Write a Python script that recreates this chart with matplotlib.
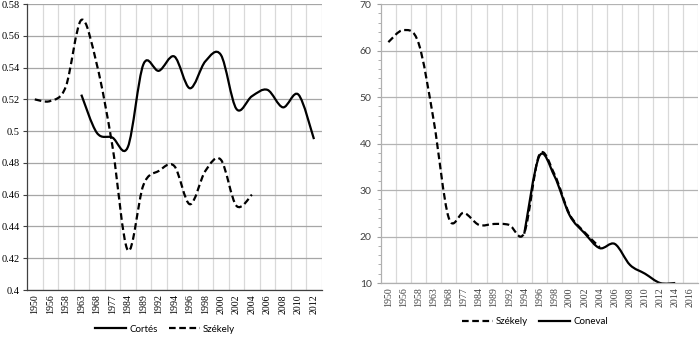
import numpy as np
import matplotlib
matplotlib.use("Agg")
import matplotlib.pyplot as plt
from matplotlib.path import Path
from matplotlib.patches import PathPatch
from matplotlib.lines import Line2D

nan = np.nan

years_left = ["1950", "1956", "1958", "1963", "1968", "1977", "1984", "1989", "1992", "1994",
              "1996", "1998", "2000", "2002", "2004", "2006", "2008", "2010", "2012"]
cortes = [nan, nan, nan, 0.523, 0.499, 0.496, 0.490, 0.542, 0.538, 0.547,
          0.527, 0.544, 0.548, 0.514, 0.522, 0.526, 0.515, 0.523, 0.495]
szekely_left = [0.520, 0.519, 0.528, 0.570, 0.542, 0.491, 0.425, 0.466, 0.475, 0.478,
                0.454, 0.475, 0.482, 0.453, 0.460, nan, nan, nan, nan]

years_right = years_left + ["2014", "2016"]
szekely_right = [61.8, 64.4, 61.6, 45.0, 24.0, 25.1, 22.5, 22.7, 22.5, 20.8,
                 37.6, 33.4, 24.8, 20.9, 17.7, nan, nan, nan, nan, nan, nan]
coneval = [nan, nan, nan, nan, nan, nan, nan, nan, nan, 20.6,
           37.3, 33.0, 24.6, 20.7, 17.5, 18.4, 13.9, 12.0, 10.0, 10.0, nan]


def smooth_line(ax, values, **kw):
    # excel-style smoothed line (catmull-rom through the points)
    x = np.arange(len(values), dtype=float)
    y = np.asarray(values, dtype=float)
    ok = ~np.isnan(y)
    pts = np.column_stack([x[ok], y[ok]])
    n = len(pts)
    verts = [pts[0]]
    codes = [Path.MOVETO]
    for i in range(n - 1):
        p0 = pts[i - 1] if i > 0 else pts[i]
        p1, p2 = pts[i], pts[i + 1]
        p3 = pts[i + 2] if i + 2 < n else pts[i + 1]
        verts += [p1 + (p2 - p0) / 6, p2 - (p3 - p1) / 6, p2]
        codes += [Path.CURVE4] * 3
    ax.add_patch(PathPatch(Path(verts, codes), fill=False, **kw))


fig = plt.figure(figsize=(7, 3.4), dpi=100)
ax1 = fig.add_axes([0.0386, 0.147, 0.421, 0.841])
ax2 = fig.add_axes([0.544, 0.1676, 0.453, 0.8206])

serif = "Liberation Serif"
sans = "Lato"

# left panel
smooth_line(ax1, cortes, color="black", lw=1.6, capstyle="butt")
smooth_line(ax1, szekely_left, color="black", lw=1.6, linestyle=(0, (3, 1.6)), capstyle="butt")
ax1.set_xlim(-0.5, len(years_left) - 0.5)
ax1.set_ylim(0.4, 0.58)
ax1.set_yticks(np.arange(0.40, 0.581, 0.02))
ax1.set_yticklabels(["0.4", "0.42", "0.44", "0.46", "0.48", "0.5", "0.52", "0.54", "0.56", "0.58"],
                    family=serif, fontsize=7.5)
ax1.set_xticks(range(len(years_left)))
ax1.set_xticklabels(years_left, rotation=90, family=serif, fontsize=7.1)
ax1.set_xticks(np.arange(0.5, len(years_left) - 0.4, 1), minor=True)
ax1.grid(axis="y", which="major", color="#a6a6a6", lw=0.9)
ax1.grid(axis="x", which="minor", color="#d9d9d9", lw=0.9)
ax1.tick_params(axis="x", which="both", length=0, pad=3)
ax1.tick_params(axis="y", length=3, width=0.8, color="#404040", pad=2)
for s in ["top", "right"]:
    ax1.spines[s].set_visible(False)
for s in ["left", "bottom"]:
    ax1.spines[s].set_color("#404040")
    ax1.spines[s].set_linewidth(0.9)
ax1.set_axisbelow(True)

# right panel
smooth_line(ax2, szekely_right, color="black", lw=1.6, linestyle=(0, (3, 1.6)), capstyle="butt")
smooth_line(ax2, coneval, color="black", lw=1.6, capstyle="butt")
ax2.set_xlim(-0.5, len(years_right) - 0.5)
ax2.set_ylim(10, 70)
ax2.set_yticks(range(10, 71, 10))
ax2.set_yticks(range(10, 71, 2), minor=True)
ax2.tick_params(axis="y", which="major", labelsize=7.5, length=3, color="#a0a0a0", labelcolor="#404040")
ax2.tick_params(axis="y", which="minor", length=2, color="#a0a0a0")
for lab in ax2.get_yticklabels():
    lab.set_family(sans)
ax2.set_xticks(range(len(years_right)))
ax2.set_xticklabels(years_right, rotation=90, family=serif, fontsize=7.1, color="#404040")
ax2.set_xticks(np.arange(0.5, len(years_right) - 0.4, 1), minor=True)
ax2.grid(axis="y", which="major", color="#b3b3b3", lw=0.9)
ax2.grid(axis="x", which="minor", color="#d9d9d9", lw=0.9)
ax2.tick_params(axis="x", which="both", length=0, pad=3)
for s in ["top", "right"]:
    ax2.spines[s].set_visible(False)
for s in ["left", "bottom"]:
    ax2.spines[s].set_color("#b0b0b0")
    ax2.spines[s].set_linewidth(0.9)
ax2.set_axisbelow(True)

solid = Line2D([], [], color="black", lw=1.6)
dashed = Line2D([], [], color="black", lw=1.6, linestyle=(0, (3, 1.6)))
fig.legend([solid, dashed], ["Cortés", "Székely"], loc="center", bbox_to_anchor=(0.236, 0.032),
           ncol=2, frameon=False, prop={"family": sans, "size": 7}, handlelength=3.2,
           columnspacing=1.2, handletextpad=0.3)
fig.legend([dashed, solid], ["Székely", "Coneval"], loc="center", bbox_to_anchor=(0.764, 0.053),
           ncol=2, frameon=False, prop={"family": sans, "size": 7}, handlelength=3.2,
           columnspacing=1.2, handletextpad=0.3)

fig.savefig("out.png", dpi=100, facecolor="white")
